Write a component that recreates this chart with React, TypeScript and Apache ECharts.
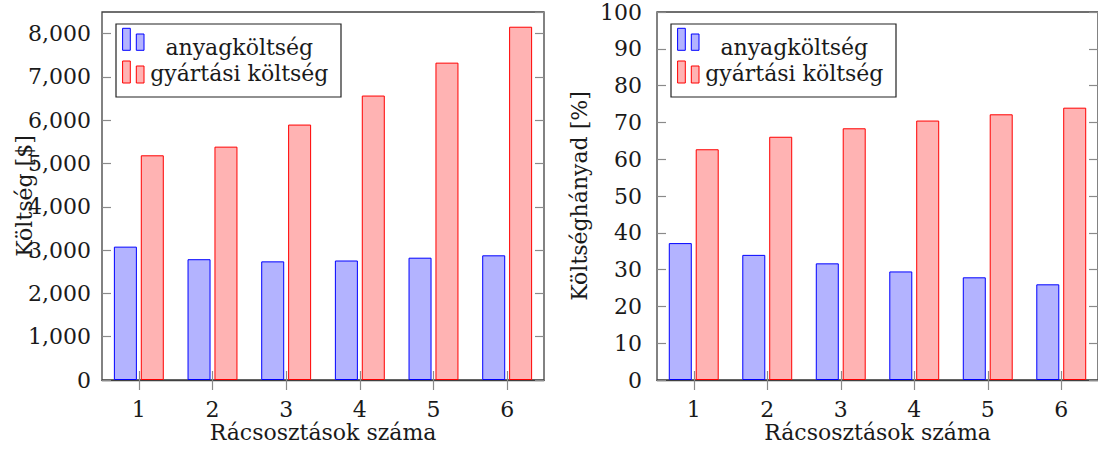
import React, { useEffect, useRef } from "react";
import * as echarts from "echarts";

const categories = ["1", "2", "3", "4", "5", "6"];
const materialCost = [3080, 2790, 2740, 2760, 2825, 2880];
const manufacturingCost = [5190, 5390, 5900, 6570, 7330, 8160];
const materialShare = [37.2, 34.0, 31.7, 29.5, 27.9, 26.0];
const manufacturingShare = [62.7, 66.1, 68.4, 70.5, 72.2, 74.0];
const seriesNames = ["anyagköltség", "gyártási költség"];
const xTitle = "Rácsosztások száma";
const yTitles = ["Költség [$]", "Költséghányad [%]"];

const FONT = "DejaVu Serif";
const TXT = "#1a1a1a";
const FRAME = "#404040";
const TICK = "#8a8a8a";
const BLUE_FILL = "#b3b3ff";
const BLUE_LINE = "#0000ff";
const RED_FILL = "#ffb3b3";
const RED_LINE = "#ff0000";

const GRID_LEFTS = [102, 657];

function legend(frameLeft: number) {
  const ox = frameLeft;
  return {
    type: "group",
    z: 100,
    children: [
      {
        type: "rect",
        shape: { x: ox + 14, y: 24, width: 225, height: 73 },
        style: { fill: "#fff", stroke: "#222", lineWidth: 1.2 },
      },
      { type: "rect", shape: { x: ox + 20.6, y: 28.3, width: 7.7, height: 22 }, style: { fill: BLUE_FILL, stroke: BLUE_LINE, lineWidth: 1 } },
      { type: "rect", shape: { x: ox + 34.3, y: 34, width: 7.7, height: 16.3 }, style: { fill: BLUE_FILL, stroke: BLUE_LINE, lineWidth: 1 } },
      { type: "rect", shape: { x: ox + 20.6, y: 61, width: 7.7, height: 22 }, style: { fill: RED_FILL, stroke: RED_LINE, lineWidth: 1 } },
      { type: "rect", shape: { x: ox + 34.3, y: 66, width: 7.7, height: 17 }, style: { fill: RED_FILL, stroke: RED_LINE, lineWidth: 1 } },
      {
        type: "text",
        style: { text: seriesNames[0], x: ox + 137.3, y: 47, align: "center", verticalAlign: "middle", fontFamily: FONT, fontSize: 22, fill: TXT },
      },
      {
        type: "text",
        style: { text: seriesNames[1], x: ox + 137.3, y: 73, align: "center", verticalAlign: "middle", fontFamily: FONT, fontSize: 22, fill: TXT },
      },
    ],
  };
}

const textStyle = { fontFamily: FONT, fontSize: 22, color: TXT };

function xAxes(gi: number) {
  return [
    {
      gridIndex: gi,
      type: "category",
      data: categories,
      position: "bottom",
      axisLine: { show: true, lineStyle: { color: FRAME, width: 1.3 } },
      axisTick: { show: true, alignWithLabel: true, length: 10, lineStyle: { color: TICK, width: 1.2 } },
      axisLabel: { margin: 18, ...textStyle },
      name: xTitle,
      nameLocation: "middle",
      nameGap: 41,
      nameMoveOverlap: false,
      nameTextStyle: textStyle,
    },
    {
      gridIndex: gi,
      type: "category",
      data: categories,
      position: "top",
      axisLine: { show: false },
      axisTick: { show: true, alignWithLabel: true, length: 9, lineStyle: { color: TICK, width: 1.2 } },
      axisLabel: { show: false },
    },
  ];
}

function yAxes(gi: number, max: number, interval: number, name: string, labelMargin: number, nameGap: number, fmt: (v: number) => string) {
  return [
    {
      gridIndex: gi,
      type: "value",
      position: "left",
      min: 0,
      max,
      interval,
      axisLine: { show: false },
      axisTick: { show: true, inside: true, length: 9, lineStyle: { color: TICK, width: 1.2 } },
      splitLine: { show: false },
      axisLabel: { margin: labelMargin, showMaxLabel: max % interval === 0, formatter: fmt, ...textStyle },
      name,
      nameLocation: "middle",
      nameRotate: 90,
      nameGap,
      nameMoveOverlap: false,
      nameTextStyle: textStyle,
    },
    {
      gridIndex: gi,
      type: "value",
      position: "right",
      min: 0,
      max,
      interval,
      axisLine: { show: false },
      axisTick: { show: true, inside: true, length: 9, lineStyle: { color: TICK, width: 1.2 } },
      splitLine: { show: false },
      axisLabel: { show: false },
    },
  ];
}

function barSeries(xi: number, yi: number, values: number[], i: number) {
  return {
    type: "bar",
    name: seriesNames[i],
    xAxisIndex: xi,
    yAxisIndex: yi,
    data: values,
    barWidth: 23,
    barGap: "17%",
    itemStyle: {
      color: i === 0 ? BLUE_FILL : RED_FILL,
      borderColor: i === 0 ? BLUE_LINE : RED_LINE,
      borderWidth: 1,
    },
  };
}

export default function App() {
  const ref = useRef<HTMLDivElement>(null);
  useEffect(() => {
    if (!ref.current) return;
    const chart = echarts.init(ref.current, undefined, { renderer: "svg" });
    const grid = GRID_LEFTS.map((left) => ({
      left,
      top: 12,
      width: 442,
      height: 368,
      show: true,
      borderColor: FRAME,
      borderWidth: 1.3,
      backgroundColor: "transparent",
    }));
    chart.setOption({
      animation: false,
      backgroundColor: "#fff",
      grid,
      xAxis: [...xAxes(0), ...xAxes(1)],
      yAxis: [
        ...yAxes(0, 8500, 1000, yTitles[0], 11, 67, (v: number) => v.toLocaleString("en-US")),
        ...yAxes(1, 100, 10, yTitles[1], 15, 67, (v: number) => String(v)),
      ],
      series: [
        barSeries(0, 0, materialCost, 0),
        barSeries(0, 0, manufacturingCost, 1),
        barSeries(2, 2, materialShare, 0),
        barSeries(2, 2, manufacturingShare, 1),
      ],
      graphic: [legend(GRID_LEFTS[0]), legend(GRID_LEFTS[1])],
    });
    return () => chart.dispose();
  }, []);
  return <div ref={ref} style={{ position: "absolute", left: 0, top: 0, width: 1098, height: 450 }} />;
}
